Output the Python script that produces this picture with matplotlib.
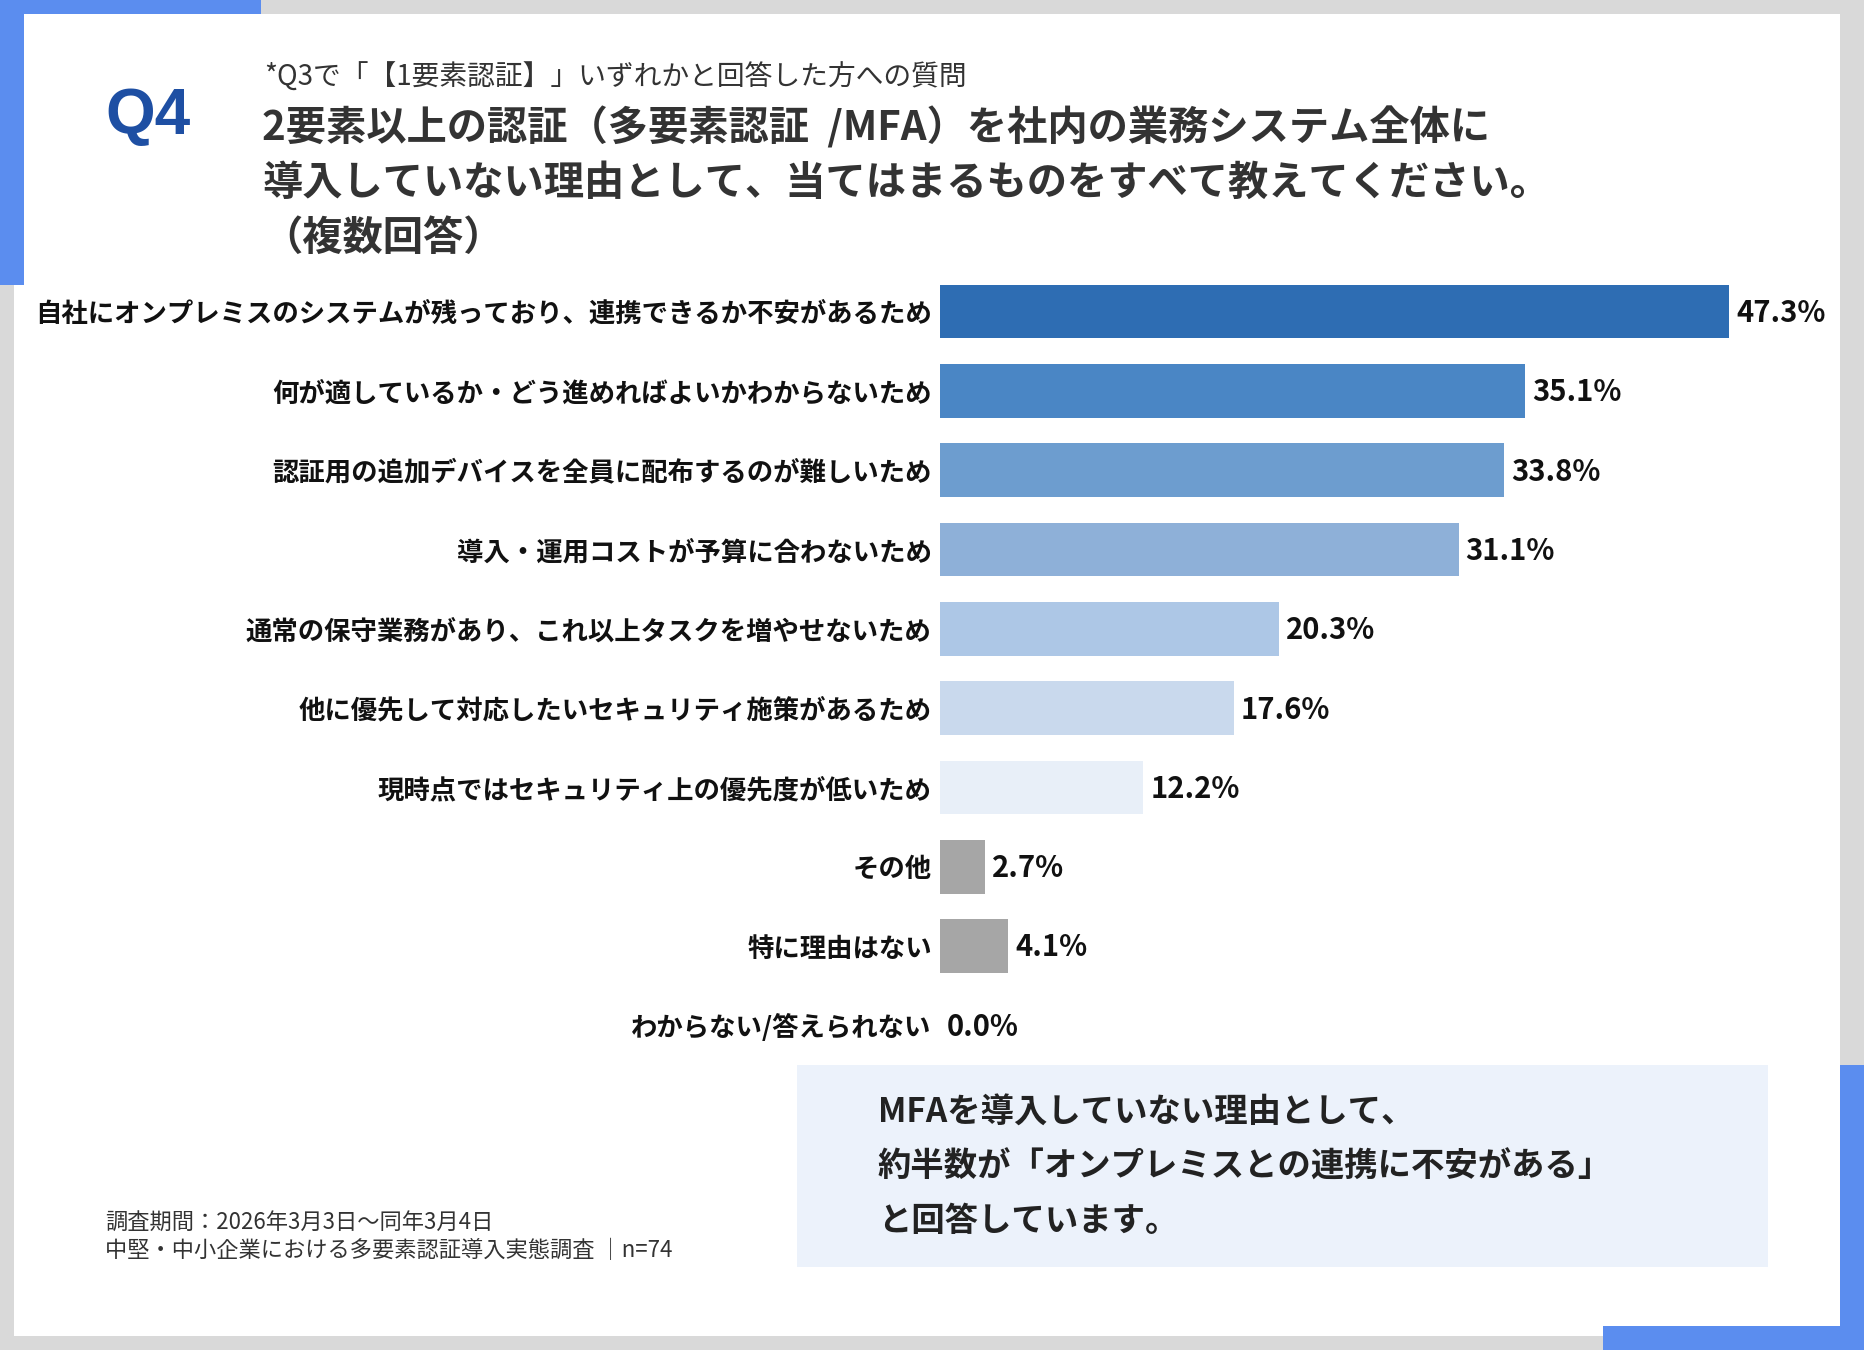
import matplotlib
matplotlib.use("Agg")
import matplotlib.pyplot as plt
from matplotlib.patches import Rectangle

plt.rcParams['font.family'] = ['Noto Sans CJK JP', 'DejaVu Sans']

# データ
categories = [
    "自社にオンプレミスのシステムが残っており、連携できるか不安があるため",
    "何が適しているか・どう進めればよいかわからないため",
    "認証用の追加デバイスを全員に配布するのが難しいため",
    "導入・運用コストが予算に合わないため",
    "通常の保守業務があり、これ以上タスクを増やせないため",
    "他に優先して対応したいセキュリティ施策があるため",
    "現時点ではセキュリティ上の優先度が低いため",
    "その他",
    "特に理由はない",
    "わからない/答えられない",
]
values = [47.3, 35.1, 33.8, 31.1, 20.3, 17.6, 12.2, 2.7, 4.1, 0.0]
bar_colors = ['#2e6db3', '#4a86c5', '#6d9dcf', '#8eb0d8', '#adc7e6',
              '#c9d9ed', '#e8eff8', '#a6a6a6', '#a6a6a6', '#a6a6a6']

W, H = 1864, 1350
fig = plt.figure(figsize=(W / 100, H / 100), dpi=100)
fig.patch.set_facecolor('#d9d9d9')


def px_rect(x0, y0, x1, y1, color):
    # 上からのピクセル座標で矩形を描く
    fig.add_artist(Rectangle((x0 / W, 1 - y1 / H), (x1 - x0) / W, (y1 - y0) / H,
                             transform=fig.transFigure, color=color, lw=0, zorder=0))


def px_text(x, y, s, **kw):
    fig.text(x / W, 1 - y / H, s, **kw)


blue = '#5b8def'
px_rect(14, 14, 1840, 1336, 'white')
px_rect(0, 0, 261, 14, blue)
px_rect(0, 0, 24, 285, blue)
px_rect(1840, 1065, 1864, 1350, blue)
px_rect(1603, 1326, 1864, 1350, blue)

# タイトル
px_text(105, 117, "Q4", family=['Liberation Sans', 'DejaVu Sans'], fontsize=46,
        fontweight='bold', color='#1e4fa3', va='center', ha='left')
px_text(264, 78, "*Q3で「【1要素認証】」いずれかと回答した方への質問",
        fontsize=20, color='#333333', va='center', ha='left')
title_lines = ["2要素以上の認証（多要素認証  /MFA）を社内の業務システム全体に",
               "導入していない理由として、当てはまるものをすべて教えてください。",
               "（複数回答）"]
for i, line in enumerate(title_lines):
    px_text(262, 128 + i * 55, line, fontsize=29, fontweight='bold',
            color='#333333', va='center', ha='left')

# 棒グラフ
ax = fig.add_axes([940 / W, (H - 1065) / H, 834 / W, 793 / H])
ax.set_facecolor('none')
y = list(range(len(categories)))
ax.barh(y, values, height=0.675, color=bar_colors)
ax.set_xlim(0, 50)
ax.set_ylim(len(categories) - 0.5, -0.5)
ax.set_yticks(y)
ax.set_yticklabels(categories, fontsize=19, fontweight='bold', color='#111111')
ax.tick_params(axis='y', length=0, pad=6)
ax.set_xticks([])
for s in ax.spines.values():
    s.set_visible(False)
for yi, v in zip(y, values):
    ax.annotate(f"{v:.1f}%", (v, yi), xytext=(5, -1), textcoords='offset points',
                fontsize=21, fontweight='bold', color='#111111',
                va='center', ha='left', annotation_clip=False)

# まとめボックス
px_rect(797, 1065, 1768, 1267, '#ecf2fb')
summary = ["MFAを導入していない理由として、",
           "約半数が「オンプレミスとの連携に不安がある」",
           "と回答しています。"]
for i, line in enumerate(summary):
    px_text(878, 1113 + i * 54, line, fontsize=24, fontweight='bold',
            color='#222222', va='center', ha='left')

# 注記
px_text(105, 1222, "調査期間：2026年3月3日～同年3月4日", fontsize=16,
        color='#333333', va='center', ha='left')
px_text(105, 1251, "中堅・中小企業における多要素認証導入実態調査 │n=74", fontsize=16,
        color='#333333', va='center', ha='left')

fig.savefig("out.png", dpi=100, facecolor=fig.get_facecolor())
